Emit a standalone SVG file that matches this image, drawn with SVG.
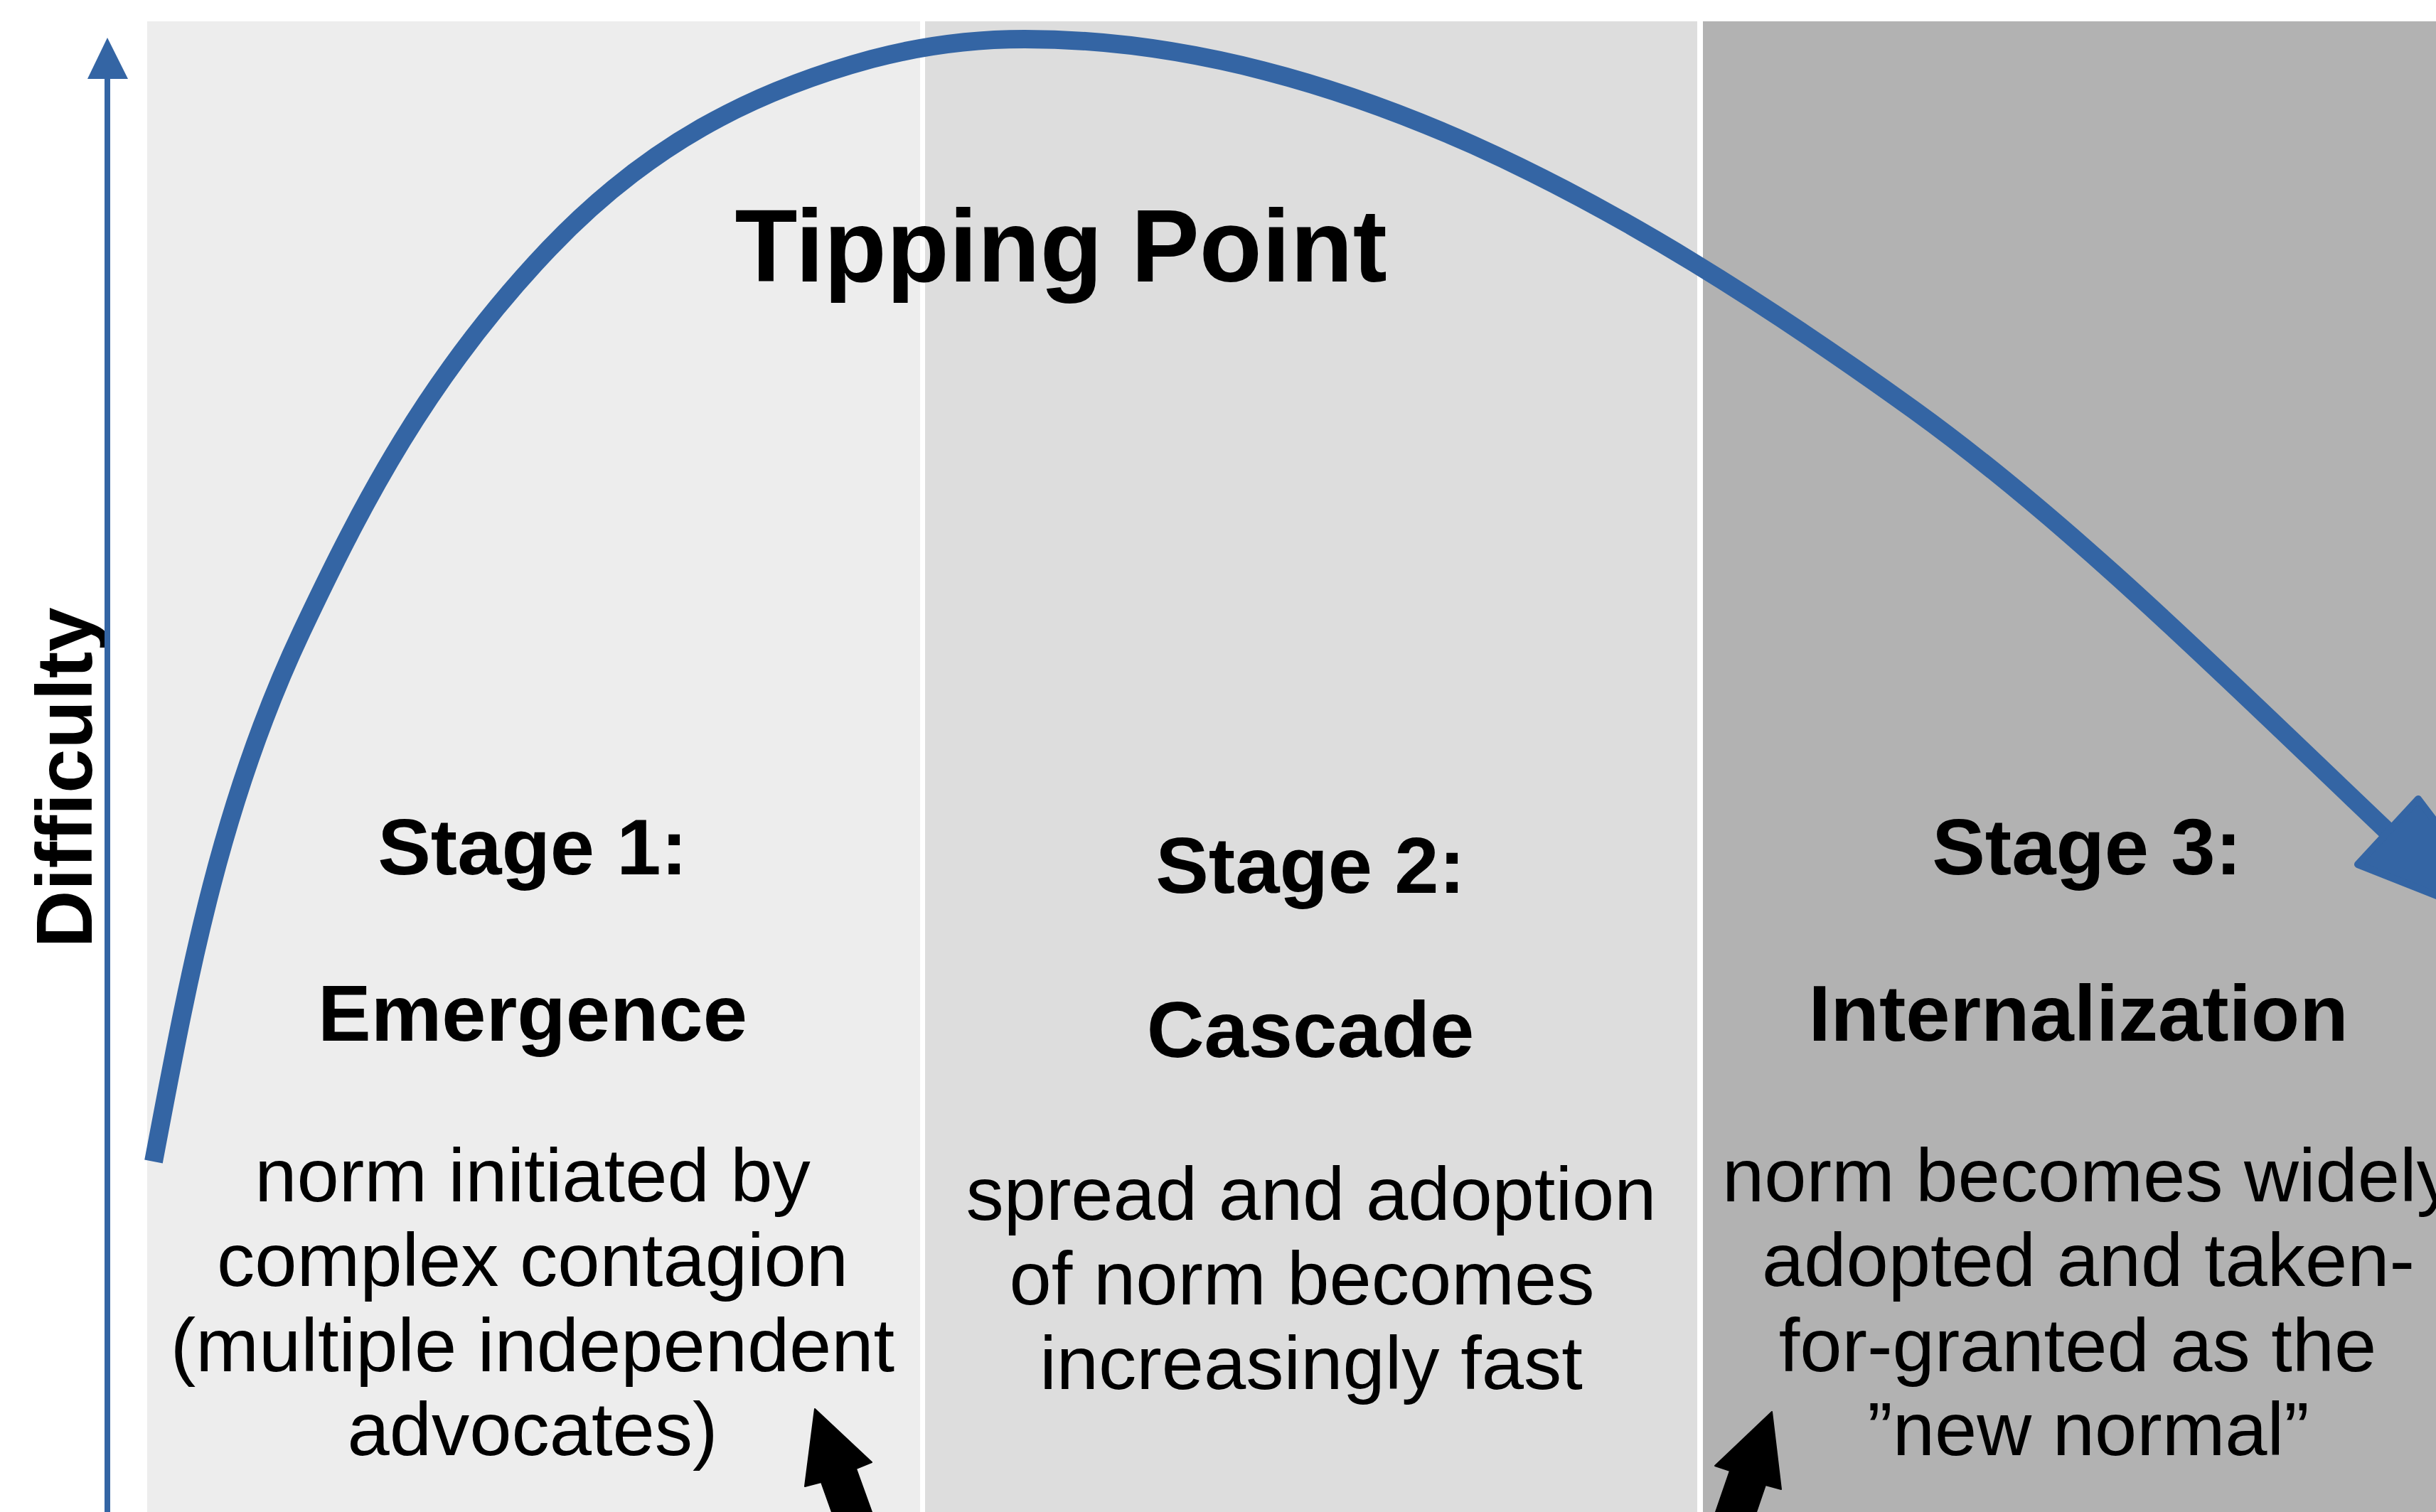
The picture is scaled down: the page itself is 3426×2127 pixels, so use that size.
<svg xmlns="http://www.w3.org/2000/svg" width="3426" height="2127" viewBox="0 0 3426 2127">
  <style>
    .head { font-family: "Liberation Sans", Arial, sans-serif; font-weight: bold; font-size: 112px; fill: #000; text-anchor: middle; }
    .body { font-family: "Liberation Sans", Arial, sans-serif; font-size: 106.5px; fill: #000; text-anchor: middle; }
    .title { font-family: "Liberation Sans", Arial, sans-serif; font-weight: bold; font-size: 144px; fill: #000; text-anchor: middle; }
    .blue { fill: #3465a4; }
    .curve { fill: none; stroke: #3465a4; stroke-width: 26; }
  </style>
  <rect x="0" y="0" width="3426" height="2127" fill="#ffffff"/>

  <g id="stage1">
    <rect x="207" y="30" width="1087" height="2097" fill="#ededed"/>
    <text class="head" x="749" y="1230">Stage 1:</text>
    <text class="head" x="749" y="1464">Emergence</text>
    <text class="body" x="749" y="1690">norm initiated by</text>
    <text class="body" x="749" y="1809">complex contagion</text>
    <text class="body" x="749" y="1929">(multiple independent</text>
    <text class="body" x="749" y="2047">advocates)</text>
  </g>

  <g id="stage2">
    <rect x="1301" y="30" width="1086" height="2097" fill="#dddddd"/>
    <text class="head" x="1843" y="1256">Stage 2:</text>
    <text class="head" x="1843" y="1487">Cascade</text>
    <text class="body" x="1844" y="1716">spread and adoption</text>
    <text class="body" x="1831" y="1835">of norm becomes</text>
    <text class="body" x="1844" y="1954">increasingly fast</text>
  </g>

  <g id="stage3">
    <rect x="2395" y="30" width="1031" height="2097" fill="#b2b2b2"/>
    <text class="head" x="2935" y="1230">Stage 3:</text>
    <text class="head" x="2923" y="1464">Internalization</text>
    <text class="body" x="2937" y="1690">norm becomes widely</text>
    <text class="body" x="2937" y="1809">adopted and taken-</text>
    <text class="body" x="2922" y="1929">for-granted as the</text>
    <text class="body" x="2937" y="2047">”new normal”</text>
  </g>

  <g id="title">
    <text class="title" x="1492" y="396">Tipping Point</text>
  </g>

  <g id="axis-label">
    <text class="head" transform="translate(129,1094) rotate(-90)" x="0" y="0">Difficulty</text>
  </g>

  <g id="connectors">
    <!-- vertical axis -->
    <line x1="151" y1="2127" x2="151" y2="108" stroke="#3465a4" stroke-width="8"/>
    <polygon class="blue" points="123,111 151,53 180,111"/>
    <!-- difficulty curve -->
    <path class="curve" d="M216,1634 C263,1386 307,1137 424,889 C509,709 601,530 772,350 C910,205 1056,129 1226,83 C1298,64 1369,55 1441,55 C1651,55 1862,110 2072,204 C2279,297 2485,428 2692,577 C2914,737 3135,958 3357,1169"/>
    <polygon class="blue" points="3401,1124 3536,1303 3316,1216" stroke="#3465a4" stroke-width="10" stroke-linejoin="round"/>
    <!-- black arrows from below -->
    <path d="M1146,1982 L1226,2057 L1204,2066 L1226,2127 L1170,2127 L1155,2085 L1132,2091 Z" fill="#000" stroke="#000" stroke-width="2" stroke-linejoin="round"/>
    <path d="M2492,1986 L2505,2095 L2483,2089 L2470,2127 L2413,2127 L2433,2069 L2412,2062 Z" fill="#000" stroke="#000" stroke-width="2" stroke-linejoin="round"/>
  </g>
</svg>
